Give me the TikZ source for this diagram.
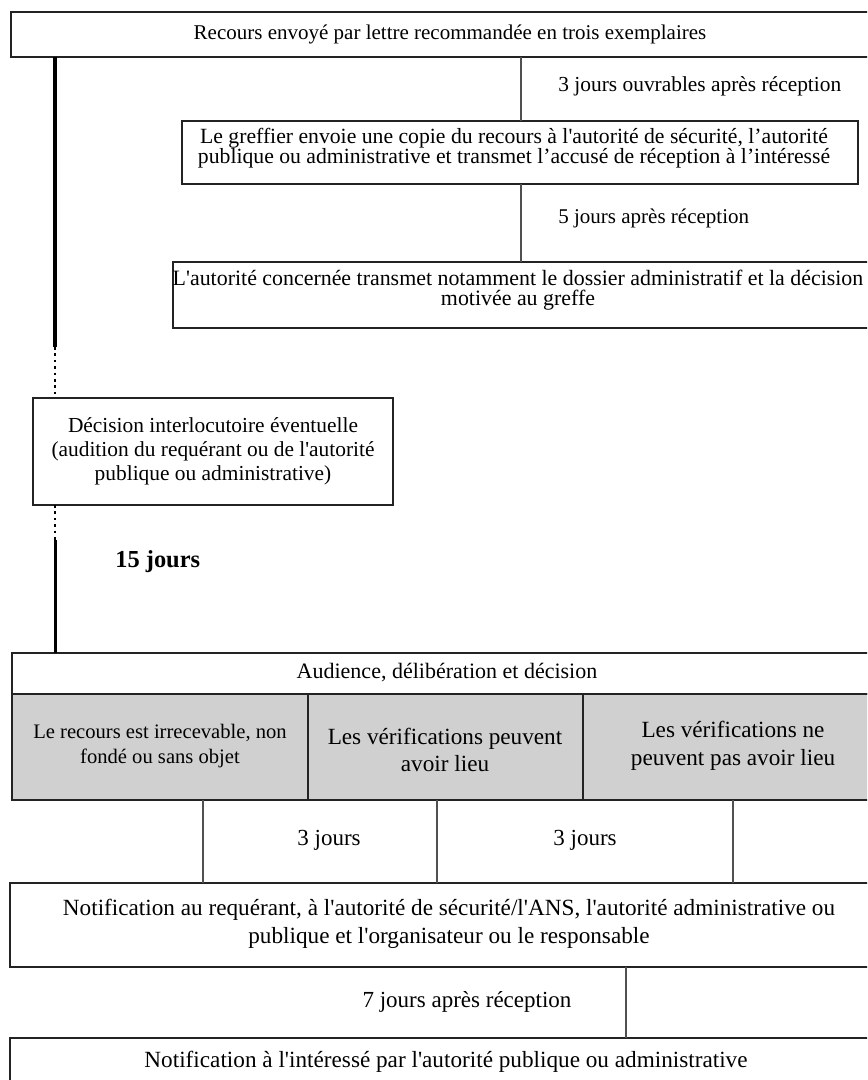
\documentclass[tikz,border=0pt]{standalone}
\usepackage{fontspec}
\setmainfont{Liberation Serif}[Ligatures=TeXOff]
\usetikzlibrary{fit}
\definecolor{cellgray}{RGB}{208,208,208}
\definecolor{rulecol}{RGB}{35,35,35}
\definecolor{linkcol}{RGB}{80,80,80}

\begin{document}
\begin{tikzpicture}[x=0.5pt,y=-0.5pt,
  frame/.style={draw=rulecol, line width=0.8pt, inner sep=0pt, outer sep=0pt, rectangle},
  graycell/.style={frame, fill=cellgray},
  link/.style={draw=linkcol, line width=0.55pt},
  spine/.style={draw=black, line width=2pt},
  dots/.style={draw=black, line width=1.4pt, dash pattern=on 1.3pt off 1.9pt},
  txt/.style={align=center, inner sep=0pt, font=\fontsize{11}{10}\selectfont},
]
\useasboundingbox (0,0) rectangle (867,1080);
\fill[white] (0,0) rectangle (867,1080);
\clip (0,0) rectangle (867,1080);

% ---- frames ----
\node[frame, fit={(11,12) (888,57)}] (top) {};
\node[frame, fit={(182,121) (858,184)}] (greffier) {};
\node[frame, fit={(173,262) (881,328)}] (autorite) {};
\node[frame, fit={(33,398) (393,505)}] (decision) {};
\node[frame, fit={(12,653) (888,694)}] (audience) {};
\node[graycell, fit={(12,694) (308,800)}] (cellA) {};
\node[graycell, fit={(308,694) (583,800)}] (cellB) {};
\node[graycell, fit={(583,694) (888,800)}] (cellC) {};
\node[frame, fit={(10,883) (888,967)}] (notif) {};
\node[frame, fit={(10,1038) (888,1090)}] (final) {};

% ---- texts ----
\node[txt, font=\fontsize{10.5}{10}\selectfont] (ttop) at (450,34)
  {Recours envoyé par lettre recommandée en trois exemplaires};
\node[txt, anchor=west, font=\fontsize{10.7}{10}\selectfont] (lab1) at (558,86)
  {3 jours ouvrables après réception};
\node[txt, font=\fontsize{10.85}{9.9}\selectfont] (tgreffier) at (514,148)
  {Le greffier envoie une copie du recours à l'autorité de sécurité, l’autorité\\
   publique ou administrative et transmet l’accusé de réception à l’intéressé};
\node[txt, anchor=west, font=\fontsize{10.5}{10}\selectfont] (lab2) at (558,218)
  {5 jours après réception};
\node[txt, font=\fontsize{10.95}{9.8}\selectfont] (tautorite) at (518,290)
  {L'autorité concernée transmet notamment le dossier administratif et la décision\\
   motivée au greffe};
\node[txt, font=\fontsize{10.7}{12}\selectfont] (tdecision) at (213,451)
  {Décision interlocutoire éventuelle\\
   (audition du requérant ou de l'autorité\\
   publique ou administrative)};
\node[txt, anchor=west, font=\fontsize{12.2}{10}\bfseries] (lab15) at (115,562) {15 jours};
\node[txt] (taudience) at (447,673) {Audience, délibération et décision};
\node[txt, font=\fontsize{10.3}{12.5}\selectfont] (tcellA) at (160,746)
  {Le recours est irrecevable, non\\ fondé ou sans objet};
\node[txt, font=\fontsize{11.6}{13.5}\selectfont] (tcellB) at (445,750)
  {Les vérifications peuvent\\ avoir lieu};
\node[txt, font=\fontsize{11.6}{14}\selectfont] (tcellC) at (733,746)
  {Les vérifications ne\\ peuvent pas avoir lieu};
\node[txt, font=\fontsize{11.5}{10}\selectfont] (lab3a) at (329,840) {3 jours};
\node[txt, font=\fontsize{11.5}{10}\selectfont] (lab3b) at (585,840) {3 jours};
\node[txt, font=\fontsize{11.6}{14}\selectfont] (tnotif) at (449,924)
  {Notification au requérant, à l'autorité de sécurité/l'ANS, l'autorité administrative ou\\
   publique et l'organisateur ou le responsable};
\node[txt, font=\fontsize{11.5}{10}\selectfont] (lab7) at (467,1002) {7 jours après réception};
\node[txt, font=\fontsize{11.6}{10}\selectfont] (tfinal) at (446,1062)
  {Notification à l'intéressé par l'autorité publique ou administrative};

% ---- timeline on the left ----
\coordinate (sp1) at (55,347);
\coordinate (sp2) at (55,540);
\draw[spine] (top.south -| sp1) -- (sp1);
\draw[dots] (sp1) -- (decision.north -| sp1);
\draw[dots] (decision.south -| sp2) -- (sp2);
\draw[spine, line width=1.5pt] (sp2) -- (audience.north -| sp2);

% ---- delay connectors ----
\coordinate (c1) at (521,0);
\draw[link] (top.south -| c1) -- (greffier.north -| c1);
\draw[link] (greffier.south -| c1) -- (autorite.north -| c1);

\coordinate (c2) at (203,0);
\coordinate (c3) at (437,0);
\coordinate (c4) at (733,0);
\draw[link] (cellA.south -| c2) -- (notif.north -| c2);
\draw[link] (cellB.south -| c3) -- (notif.north -| c3);
\draw[link] (cellC.south -| c4) -- (notif.north -| c4);

\coordinate (c5) at (626,0);
\draw[link] (notif.south -| c5) -- (final.north -| c5);
\end{tikzpicture}
\end{document}
